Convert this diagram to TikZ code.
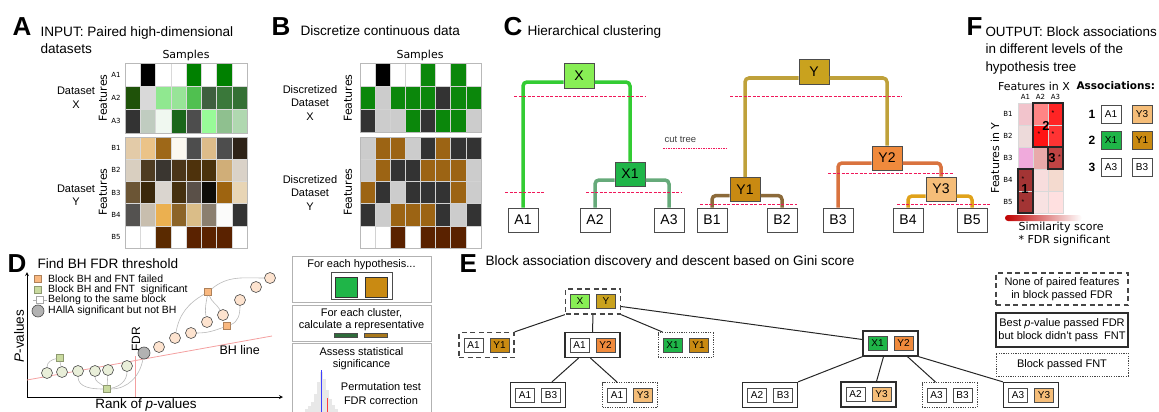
\documentclass[tikz,border=0pt]{standalone}
\usepackage{fontspec}
\setmainfont{Liberation Sans}
\newfontfamily\dejavu{DejaVu Sans}

\definecolor{colX}{HTML}{88EE55}
\definecolor{colXone}{HTML}{1FB548}
\definecolor{colY}{HTML}{C9A21E}
\definecolor{colYone}{HTML}{C98A12}
\definecolor{colYtwo}{HTML}{F08A3C}
\definecolor{colYthree}{HTML}{F5BD78}
\definecolor{astX}{HTML}{33CC33}
\definecolor{astXone}{HTML}{66AA7A}
\definecolor{astY}{HTML}{BFA13A}
\definecolor{astYone}{HTML}{8C6A3A}
\definecolor{astYtwo}{HTML}{D9733F}
\definecolor{astYthree}{HTML}{E0A21A}
\definecolor{schnittrot}{HTML}{F0185A}
\definecolor{bhrot}{HTML}{F4A0A0}
\definecolor{pfirsich}{HTML}{FDE3CF}
\definecolor{hellgruen}{HTML}{E9EFD9}
\definecolor{orq}{HTML}{F9B880}
\definecolor{grq}{HTML}{C9DA9F}

\begin{document}
\begin{tikzpicture}[x=1pt,y=-1pt,>=stealth,
	buchst/.style={anchor=base west,font=\fontsize{26}{28}\selectfont\bfseries},
	titel/.style={anchor=base west,font=\fontsize{13.6}{16}\selectfont},
	klein/.style={font=\dejavu\fontsize{7}{8}\selectfont},
	achse/.style={font=\dejavu\fontsize{11}{13}\selectfont},
	schrift/.style={font=\fontsize{11}{13.5}\selectfont},
	baum/.style={draw=gray!60!black,line width=1pt,minimum width=30pt,minimum height=24pt,inner sep=0pt,font=\fontsize{14}{16}\selectfont},
	ast/.style={line width=3.5pt,rounded corners=4pt},
	schnitt/.style={draw=schnittrot,line width=0.9pt,dash pattern=on 3pt off 1.5pt},
	punkt/.style={circle,draw=gray!60!black,line width=0.6pt,minimum size=11pt,inner sep=0pt},
	quad/.style={rectangle,line width=0.5pt,minimum size=7pt,inner sep=0pt},
	link/.style={draw=gray!55,line width=0.6pt},
	rahmen/.style={draw=gray!60,line width=1pt},
	paar/.style={rectangle,minimum width=55pt,minimum height=25pt,inner sep=0pt},
	keinfdr/.style={draw=gray!55!black,line width=1.3pt,dash pattern=on 5pt off 3.5pt},
	keinfnt/.style={draw=gray!35!black,line width=1.3pt},
	fnt/.style={draw=gray!55!black,line width=1pt,dash pattern=on 1.2pt off 1.2pt},
	merkmal/.style={draw=gray!60!black,line width=0.8pt,minimum width=19pt,minimum height=14pt,inner sep=0pt,font=\fontsize{10}{12}\selectfont},
	assoz/.style={draw=gray!60!black,line width=0.8pt,minimum width=20pt,minimum height=18pt,inner sep=0pt,font=\fontsize{10}{12}\selectfont},
	kante/.style={draw=black!85,line width=1pt}]
	\useasboundingbox (0,0) rectangle (1159,412);

	% A: Eingabedaten
	\node[buchst] (lA) at (9,36) {A};
	\node[titel] (tA) at (37,37) {INPUT: Paired high-dimensional};
	\node[titel] (tAb) at (37,53) {datasets};
	\node[achse] (sA) at (186,55) {Samples};
	\foreach \zeile [count=\j from 0] in {{FFFFFF,000000,FFFFFF,FFFFFF,008000,FFFFFF,008000,FFFFFF},
		{1F5209,D9D9D9,90E890,98E498,50C050,3F5F3F,3A783A,357035},
		{333333,C0CCC0,F0F8F0,1A661A,4D4D4D,98FB98,8FC08F,B0D8B0}}
		\foreach \farbe [count=\i from 0] in \zeile {
			\definecolor{zelle}{HTML}{\farbe}
			\filldraw[fill=zelle,draw=gray!30,line width=0.4pt] (125+15.25*\i,63+23.33*\j) rectangle ++(15.25,23.33);
		}
	\foreach \zeile [count=\j from 0] in {{E3CBA8,EBC388,9E6818,FBF8F0,4D4D4D,DDBC8A,4D4D4D,2E2318},
		{D9CFC0,4E3C22,3A3630,4B3518,4E320C,4A320C,D0AE78,DAD2C8},
		{6B5535,3A280C,DAD5CF,45300F,5A5048,0F0D08,9E6410,E8D5B5},
		{545250,C8BEAE,EBB050,8C6428,DABD88,8B7F6F,FBFBFA,333333},
		{FFFFFF,FFFFFF,5A2A00,FFFFFF,5A2200,5A2200,5A2200,FFFFFF}}
		\foreach \farbe [count=\i from 0] in \zeile {
			\definecolor{zelle}{HTML}{\farbe}
			\filldraw[fill=zelle,draw=gray!30,line width=0.4pt] (125+15.25*\i,137+22.2*\j) rectangle ++(15.25,22.2);
		}
	\draw[gray!55,line width=0.8pt] (125,63) rectangle (247,133);
	\draw[gray!55,line width=0.8pt] (125,137) rectangle (247,248);
	\foreach \n [count=\j from 0] in {A1,A2,A3}
		\node[klein] (rA\n) at (116,74.7+23.33*\j) {\n};
	\foreach \n [count=\j from 0] in {B1,B2,B3,B4,B5}
		\node[klein] (rA\n) at (116,148.1+22.2*\j) {\n};
	\node[achse,rotate=90] (fAX) at (103,98) {Features};
	\node[achse,rotate=90] (fAY) at (103,192) {Features};
	\node[schrift,align=center] (dAX) at (76,97.5) {Dataset\\X};
	\node[schrift,align=center] (dAY) at (76,195) {Dataset\\Y};

	% B: diskretisierte Daten
	\node[buchst] (lB) at (268,36) {B};
	\node[titel] (tB) at (297,36) {Discretize continuous data};
	\node[achse] (sB) at (420,55) {Samples};
	\foreach \zeile [count=\j from 0] in {{FFFFFF,000000,FFFFFF,FFFFFF,0B870B,FFFFFF,0B870B,FFFFFF},
		{0B870B,CCCCCC,0B870B,0B870B,0B870B,333333,0B870B,0B870B},
		{333333,CCCCCC,CCCCCC,0B870B,333333,0B870B,0B870B,CCCCCC}}
		\foreach \farbe [count=\i from 0] in \zeile {
			\definecolor{zelle}{HTML}{\farbe}
			\filldraw[fill=zelle,draw=gray!35,line width=0.4pt] (360+15.1*\i,63+23*\j) rectangle ++(15.1,23);
		}
	\foreach \zeile [count=\j from 0] in {{CCCCCC,9C6414,9C6414,CCCCCC,333333,9C6414,333333,333333},
		{CCCCCC,9C6414,333333,333333,9C6414,9C6414,9C6414,CCCCCC},
		{9C6414,333333,CCCCCC,333333,333333,333333,9C6414,CCCCCC},
		{333333,CCCCCC,9C6414,9C6414,9C6414,333333,CCCCCC,333333},
		{FFFFFF,FFFFFF,5A2200,FFFFFF,5A2200,5A2200,5A2200,FFFFFF}}
		\foreach \farbe [count=\i from 0] in \zeile {
			\definecolor{zelle}{HTML}{\farbe}
			\filldraw[fill=zelle,draw=gray!35,line width=0.4pt] (360+15.1*\i,137+22.2*\j) rectangle ++(15.1,22.2);
		}
	\draw[gray!55,line width=0.8pt] (360,63) rectangle (481,132);
	\draw[gray!55,line width=0.8pt] (360,137) rectangle (481,248);
	\node[achse,rotate=90] (fBX) at (348,98) {Features};
	\node[achse,rotate=90] (fBY) at (348,192) {Features};
	\node[schrift,align=center] (dBX) at (310,103) {Discretized\\Dataset\\X};
	\node[schrift,align=center] (dBY) at (310,193) {Discretized\\Dataset\\Y};

	% C: hierarchisches Clustering
	\node[buchst] (lC) at (500,36) {C};
	\node[titel] (tC) at (524,36) {Hierarchical clustering};
	\node[baum,fill=colX] (X) at (579,76) {X};
	\node[baum,fill=colXone] (X1) at (630,174) {X1};
	\node[baum,fill=colY] (Y) at (814,72) {Y};
	\node[baum,fill=colYone] (Y1) at (745,189.5) {Y1};
	\node[baum,fill=colYtwo] (Y2) at (887,158) {Y2};
	\node[baum,fill=colYthree] (Y3) at (941,189) {Y3};
	\foreach \n/\x in {A1/523,A2/595,A3/669,B1/712,B2/782,B3/838,B4/908,B5/972}
		\node[baum,fill=white] (\n) at (\x,220) {\n};
	\draw[ast,astX] ([yshift=-6pt]X.west) -| (A1.north);
	\draw[ast,astX] ([yshift=-6pt]X.east) -| (X1.north);
	\draw[ast,astXone] ([yshift=-6pt]X1.west) -| (A2.north);
	\draw[ast,astXone] ([yshift=-6pt]X1.east) -| (A3.north);
	\draw[ast,astY] ([yshift=-6pt]Y.west) -| (Y1.north);
	\draw[ast,astY] ([yshift=-6pt]Y.east) -| (Y2.north);
	\draw[ast,astYone] ([yshift=-6pt]Y1.west) -| (B1.north);
	\draw[ast,astYone] ([yshift=-6pt]Y1.east) -| (B2.north);
	\draw[ast,astYtwo] ([yshift=-5pt]Y2.west) -| (B3.north);
	\draw[ast,astYtwo] ([yshift=-5pt]Y2.east) -| (Y3.north);
	\draw[ast,astYthree] ([yshift=-7pt]Y3.west) -| (B4.north);
	\draw[ast,astYthree] ([yshift=-7pt]Y3.east) -| (B5.north);
	% Schnittlinien
	\draw[schnitt] (514,96) -- (646,96);
	\draw[schnitt] (730,96) -- (902,96);
	\draw[schnitt] (505,192) -- (544,192);
	\draw[schnitt] (586,192) -- (681,192);
	\draw[schnitt] (828,173) -- (953,173);
	\draw[schnitt] (700,204) -- (797,204);
	\draw[schnitt] (897,204) -- (990,204);
	\node[anchor=west,text=black!75,font=\fontsize{9.5}{11}\selectfont] (ct) at (661,139) {cut tree};
	\draw[schnitt,dash pattern=on 1.5pt off 1pt] (663,148) -- (727,148);

	% F: Ergebnis
	\node[buchst] (lF) at (963,36) {F};
	\node[titel,font=\fontsize{13.4}{16}\selectfont] (tF) at (982,37) {OUTPUT: Block associations};
	\node[titel,font=\fontsize{13.4}{16}\selectfont] (tFb) at (982,54) {in different levels of the};
	\node[titel,font=\fontsize{13.4}{16}\selectfont] (tFc) at (982,71) {hypothesis tree};
	\node[achse] (fFX) at (1034,86) {Features in X};
	\node[achse,rotate=90] (fFY) at (995,158) {Features in Y};
	\foreach \zeile [count=\j from 0] in {{F2C4CC,FF8585,FF2424},{EDDADA,FF1414,FF3333},
		{F0AADC,E8AAAA,C04444},{A33434,F8DDDD,F4DACF},{A33434,F8E2E2,FFE0E0}}
		\foreach \farbe [count=\i from 0] in \zeile {
			\definecolor{zelle}{HTML}{\farbe}
			\filldraw[fill=zelle,draw=gray!30,line width=0.4pt] (1018+15*\i,103+22*\j) rectangle ++(15,22);
		}
	\draw[black!85,line width=1.5pt] (1033,103) rectangle (1063,147);
	\draw[black!85,line width=1.5pt] (1048,147) rectangle (1063,169);
	\draw[black!85,line width=1.5pt] (1018,169) rectangle (1033,213);
	\foreach \n [count=\i from 0] in {A1,A2,A3}
		\node[klein] (cF\n) at (1025.5+15*\i,97) {\n};
	\foreach \n [count=\j from 0] in {B1,B2,B3,B4,B5}
		\node[klein] (rF\n) at (1008,114+22*\j) {\n};
	\node[font=\fontsize{13}{14}\selectfont\bfseries] (bl2) at (1046,126) {2};
	\node[font=\fontsize{13}{14}\selectfont\bfseries] (bl3) at (1052,158) {3};
	\node[font=\fontsize{13}{14}\selectfont\bfseries] (bl1) at (1025,189) {1};
	\foreach \x/\y in {1053/113,1039/134,1053/134,1059.5/157,1023/179,1023/202}
		\node[font=\fontsize{7}{8}\selectfont] at (\x,\y) {*};
	\shade[left color=red!75!black,right color=white,rounded corners=3pt] (1005,215) rectangle (1082,221);
	\node[achse,anchor=west] (sim) at (1015,227) {Similarity score};
	\node[achse,anchor=west] (sig) at (1015,240) {* FDR significant};
	\node[anchor=west,font=\dejavu\fontsize{10.5}{12}\selectfont\bfseries] (asz) at (1073,86) {Associations:};
	\foreach \r/\y/\la/\fa/\lb/\fb in {1/114/A1/white/Y3/colYthree,2/140/X1/colXone/Y1/colYone,3/167/A3/white/B3/white} {
		\node[font=\fontsize{12}{14}\selectfont\bfseries] (nr\r) at (1092,\y) {\r};
		\node[assoz,fill=\fa] (as\r-l) at (1111,\y) {\la};
		\node[assoz,fill=\fb] (as\r-r) at (1142,\y) {\lb};
	}

	% D: BH FDR Schwelle
	\node[buchst] (lD) at (4,272) {D};
	\node[titel] (tD) at (34,268) {Find BH FDR threshold};
	\coordinate (ursprung) at (27,397);
	\coordinate (xende) at (283,397);
	\coordinate (yende) at (27,272);
	\draw[->,thick] (ursprung) -- (xende);
	\draw[->,thick] (ursprung) -- (yende);
	\node[rotate=90,font=\fontsize{13.5}{15}\selectfont] (py) at (19,336) {\textit{P}-values};
	\node[font=\fontsize{13.5}{15}\selectfont] (px) at (146,405) {Rank of \textit{p}-values};
	\draw[bhrot,line width=0.8pt] (27,380) -- (272,336);
	\draw[bhrot,line width=0.8pt] (135,356) -- (135,397);
	\node[rotate=90,font=\fontsize{12}{14}\selectfont] (fdr) at (136,339) {FDR};
	\node[anchor=west,font=\fontsize{12.5}{14}\selectfont] (bh) at (216,350) {BH line};
	% Legende
	\node[quad,fill=orq,draw=orq!70!black] (m1) at (38,279) {};
	\node[quad,fill=grq,draw=grq!70!black] (m2) at (38,289.5) {};
	\coordinate (m3a) at (33,300);
	\coordinate (m3b) at (47,300);
	\node[quad,fill=white,draw=gray!70] (m3) at (40,300) {};
	\draw[gray!60] (m3a) -- (m3) -- (m3b);
	\node[punkt,fill=gray!60,minimum size=12pt] (m4) at (38,311) {};
	\foreach \n/\y/\t in {1/279/Block BH and FNT failed,2/289.5/Block BH and FNT~ significant,
		3/300/Belong to the same block,4/311/HAllA significant but not BH}
		\node[anchor=west,font=\fontsize{10.5}{12}\selectfont,inner sep=1pt] (lt\n) at (47,\y) {\t};
	% Punkte
	\foreach \n/\x/\y in {g1/47/373,g2/62/372,g3/78/371,g4/95/371,g5/108/370,g6/127/366}
		\node[punkt,fill=hellgruen] (\n) at (\x,\y) {};
	\foreach \n/\x/\y in {c1/159/347,c2/175/338,c3/191/333,c4/207/322,c5/223/315,c6/240/300,c7/256/287,c8/270/278}
		\node[punkt,fill=pfirsich] (\n) at (\x,\y) {};
	\node[quad,fill=grq,draw=grq!70!black] (s1) at (60,358) {};
	\node[quad,fill=grq,draw=grq!70!black] (s2) at (107,389) {};
	\node[quad,fill=orq,draw=orq!70!black] (o1) at (208,292) {};
	\node[quad,fill=orq,draw=orq!70!black] (o2) at (227,326) {};
	\node[punkt,fill=gray!60,minimum size=12pt] (h) at (144,353) {};
	\draw[link] (s1) to[out=190,in=90] (g1);
	\draw[link] (s1) to[out=270,in=100] (g2);
	\draw[link] (s2) to[out=180,in=270] (g3);
	\draw[link] (s2) to[out=140,in=270] (g4);
	\draw[link] (s2) -- (g5);
	\draw[link] (s2) to[out=10,in=270] (g6);
	\draw[link] (h) to[out=260,in=0] (s2);
	\draw[link] (o1) to[out=210,in=80] (c2);
	\draw[link] (o1) to[out=40,in=180] (c8);
	\draw[link] (o1) to[out=260,in=100] (c4);
	\draw[link] (o1) to[out=290,in=120] (c5);
	\draw[link] (o2) to[out=200,in=0] (c3);
	\draw[link] (o2) to[out=20,in=270] (c6);

	% Mittlere Spalte
	\draw[rahmen] (292,256) rectangle (431,302);
	\node[schrift] (hy) at (361.5,265) {For each hypothesis...};
	\node[draw=gray!60!black,line width=0.9pt,minimum width=61pt,minimum height=27pt] (hbox) at (361.5,285.5) {};
	\node[draw=gray!40!black,fill=colXone,minimum width=22pt,minimum height=20pt,inner sep=0pt] (hX) at (346,287) {};
	\node[draw=gray!40!black,fill=colYone,minimum width=22pt,minimum height=20pt,inner sep=0pt] (hY) at (376,287) {};
	\draw[rahmen] (292,305) rectangle (431,341);
	\node[schrift] (cl) at (361.5,313) {For each cluster,};
	\node[schrift] (rep) at (361.5,326) {calculate a representative};
	\node[draw=black!70,fill={rgb,255:red,46;green,107;blue,58},minimum width=23pt,minimum height=4pt,inner sep=0pt] (rX) at (345.5,335) {};
	\node[draw=black!70,fill={rgb,255:red,168;green,120;blue,28},minimum width=23pt,minimum height=4pt,inner sep=0pt] (rY) at (375.5,335) {};
	\draw[rahmen] (292,343) rectangle (431,415);
	\node[schrift] (as) at (361.5,352) {Assess statistical};
	\node[schrift] (si) at (361.5,365) {significance};
	\foreach \x/\h in {306/3,309/6,312/10,315/18,318/30,321/40,324/33,327/22,330/13,333/7,336/3}
		\fill[gray!18] (\x-1.5,412) rectangle (\x+1.5,412-\h);
	\draw[blue!75,line width=0.6pt] (321,370) -- (321,413);
	\draw[red!75,line width=0.6pt] (327,398) -- (327,413);
	\node[schrift] (pt) at (381,387) {Permutation test};
	\node[schrift] (fc) at (381,401) {FDR correction};

	% E: Blockassoziationen
	\node[buchst] (lE) at (456,272) {E};
	\node[titel] (tE) at (482,265) {Block association discovery and descent based on Gini score};
	\foreach \n/\x/\y/\s/\la/\fa/\lb/\fb in {xy/593/301.5/keinfdr/X/colX/Y/colY,
		a1y1/486.5/345/keinfdr/A1/white/Y1/colYone,
		a1y2/592.5/345/keinfnt/A1/white/Y2/colYtwo,
		x1y1/685.5/345/fnt/X1/colXone/Y1/colYone,
		a1b3/538/395/keinfnt/A1/white/B3/white,
		a1y3/630/395/fnt/A1/white/Y3/colYthree,
		a2b3/770/395/keinfnt/A2/white/B3/white,
		x1y2/890.5/343.5/keinfnt/X1/colXone/Y2/colYtwo,
		a2y3/868.5/394.5/keinfnt/A2/white/Y3/colYthree,
		a3b3/949.5/395/fnt/A3/white/B3/white,
		a3y3/1031/395/keinfnt/A3/white/Y3/colYthree} {
		\node[paar,\s] (\n) at (\x,\y) {};
		\node[merkmal,fill=\fa] (\n-l) at ([xshift=-13pt]\n.center) {\la};
		\node[merkmal,fill=\fb] (\n-r) at ([xshift=13pt]\n.center) {\lb};
	}
	\draw[kante] (xy.south west) -- (a1y1.north east);
	\draw[kante] (xy.south) -- (a1y2.north);
	\draw[kante] (xy.south east) -- ([xshift=5pt]x1y1.north west);
	\draw[kante] ([yshift=-5pt]xy.east) -- ([yshift=4pt]x1y2.west);
	\draw[kante] ([xshift=-14pt]a1y2.south) -- ([xshift=14pt]a1b3.north);
	\draw[kante] ([xshift=-2pt]a1y2.south) -- ([xshift=-13pt]a1y3.north);
	\draw[kante] (x1y2.south west) -- (a2b3.north east);
	\draw[kante] ([xshift=-7pt]x1y2.south) -- ([xshift=8pt]a2y3.north);
	\draw[kante] ([xshift=17pt]x1y2.south) -- ([xshift=-14pt]a3b3.north);
	\draw[kante] (x1y2.south east) -- (a3y3.north west);
	% Legende
	\node[keinfdr,schrift,align=center,minimum width=132pt,minimum height=32pt] (lg1) at (1062,289) {None of paired features\\in block passed FDR};
	\node[keinfnt,schrift,align=center,line width=1.6pt,minimum width=132pt,minimum height=34pt,inner sep=1pt] (lg2) at (1062,330) {Best \textit{p}-value passed FDR\\but block didn't pass~ FNT};
	\node[fnt,schrift,minimum width=132pt,minimum height=23pt] (lg3) at (1062,364.5) {Block passed FNT};
\end{tikzpicture}
\end{document}
